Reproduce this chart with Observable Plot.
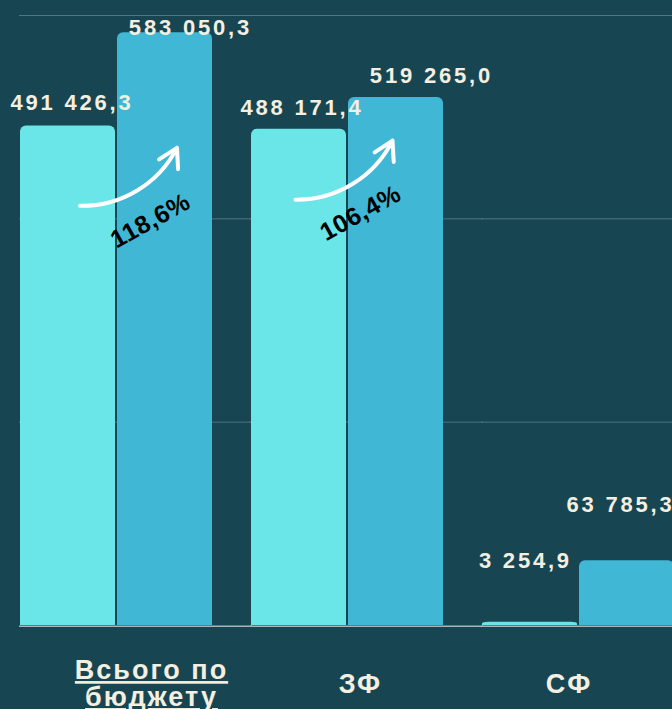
<!DOCTYPE html>
<html><head><meta charset="utf-8">
<script src="https://cdn.jsdelivr.net/npm/d3@7"></script>
<script src="https://cdn.jsdelivr.net/npm/@observablehq/plot@0.6"></script>
<style>html,body{margin:0;padding:0;background:#174552;overflow:hidden}</style>
</head><body><div id="chart"></div>
<script>
// ---- data ----
const categories = ["Всього по\nбюджету", "ЗФ", "СФ"];
const seriesKeys = ["prev", "curr"];
const prevValues = [491426.3, 488171.4, 3254.9];
const currValues = [583050.3, 519265.0, 63785.3];
const gridTicks = [200000, 400000, 600000];
const growthGroups = [0, 1];

// ---- style / layout ----
const BG = "#174552", GRID = "#4f7681", BASE = "#a9b5b8";
const LIGHT = "#6ae5e8", BLUE = "#41b7d6", CREAM = "#f4efe0";
const FONT = "'Liberation Sans', Arial, sans-serif";
const labelOffsets = [[4, -15.4], [25.4, 2], [3, -14.5], [35.4, -15], [-4.6, -53.7], [-6.5, -48.3]];
const catDx = [35, 13, -9.5];
const arrowLayout = [{dx: 12, k1: 0.84, k2: 0.956}, {dx: -3.5, k1: 0.858, k2: 0.977}];
const pctLayout = [{dx: 34, dy: 95}, {dx: 13, dy: 84}];

const locale = d3.formatLocale({decimal: ",", thousands: " ", grouping: [3], currency: ["", ""]});
const fmt = locale.format(",.1f");
const pctFmt = locale.format(".1%");

const rows = categories.flatMap((c, i) => [
  {cat: c, series: "prev", value: prevValues[i]},
  {cat: c, series: "curr", value: currValues[i]}
]);
const growth = growthGroups.map(i => ({cat: categories[i], from: prevValues[i], to: currValues[i], pct: currValues[i] / prevValues[i]}));

const marks = [
  Plot.ruleY(gridTicks, {stroke: GRID, strokeWidth: 1, insetLeft: -1, insetRight: -40}),
  Plot.ruleY([0], {stroke: BASE, strokeWidth: 1.5, dy: 0.75, insetLeft: -1, insetRight: -40}),
  Plot.barY(rows, {fx: "cat", x: "series", y: "value", fill: "series", rx: 6}),
  Plot.barY(rows, {fx: "cat", x: "series", y: d => d.value / 2, fill: "series"}),
  ...rows.map((r, k) => Plot.text([r], {
    fx: "cat", x: "series", y: "value", text: d => fmt(d.value),
    dx: labelOffsets[k][0], dy: labelOffsets[k][1], lineAnchor: "bottom",
    fill: CREAM, fontSize: 22, fontWeight: "bold", fontFamily: FONT
  })),
  ...growth.map((g, j) => Plot.arrow([g], {
    fx: "cat", x1: () => "prev", x2: () => "curr",
    y1: d => d.from * arrowLayout[j].k1, y2: d => d.from * arrowLayout[j].k2,
    dx: arrowLayout[j].dx, bend: -32, stroke: "white", strokeWidth: 4,
    strokeLinecap: "round", strokeLinejoin: "round"
  })),
  ...growth.map((g, j) => Plot.text([g], {
    fx: "cat", y: "from", frameAnchor: "middle", text: d => pctFmt(d.pct),
    dx: pctLayout[j].dx, dy: pctLayout[j].dy, rotate: -29, lineAnchor: "middle",
    fill: "#000", fontSize: 25, fontWeight: "bold", fontFamily: FONT
  })),
  ...categories.map((c, i) => Plot.text([c], {
    fx: d => d, frameAnchor: "bottom", text: d => d, dx: catDx[i], dy: 58.4,
    lineAnchor: "middle", lineHeight: 1,
    fill: CREAM, fontSize: 27, fontWeight: "bold", fontFamily: FONT
  }))
];

const svg = Plot.plot({
  width: 672, height: 709,
  marginTop: 15, marginBottom: 84, marginLeft: 19, marginRight: 0,
  style: {background: BG, overflow: "hidden"},
  fx: {domain: categories, range: [20, 674], paddingInner: 39 / 231, paddingOuter: 0, axis: null, label: null},
  x: {domain: seriesKeys, paddingInner: 2 / 97, paddingOuter: 0, axis: null, label: null},
  y: {domain: [0, 600000], axis: null},
  color: {domain: seriesKeys, range: [LIGHT, BLUE]},
  marks
});

d3.select(svg).selectAll("text").each(function() {
  const t = this.textContent;
  const s = d3.select(this);
  if (t.includes("%")) s.style("letter-spacing", "0.5px");
  else if (/\d/.test(t)) s.style("letter-spacing", "2.8px");
  else s.style("letter-spacing", "2px");
  if (t.startsWith("Всього")) s.style("text-decoration", "underline");
});
document.getElementById("chart").appendChild(svg);
</script></body></html>
